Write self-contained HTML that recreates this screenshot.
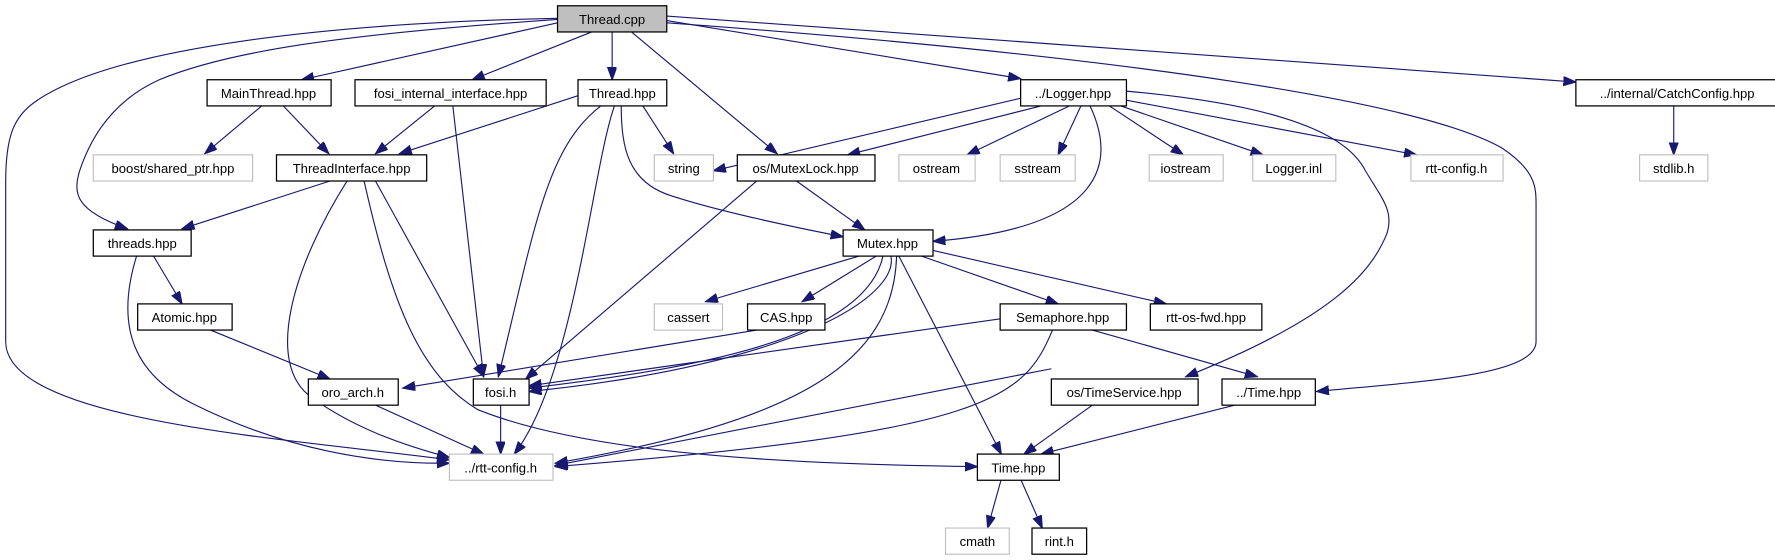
<!DOCTYPE html>
<html><head><meta charset="utf-8"><style>
html,body{margin:0;padding:0;background:#fff;}
svg{display:block;}
text{font-family:"Liberation Sans","DejaVu Sans",sans-serif;font-size:11.5px;fill:#000;text-anchor:middle;}
.b{fill:#fff;stroke:#000;stroke-width:1.1;}
.g{fill:#fff;stroke:#bfbfbf;stroke-width:1;}
.e{fill:none;stroke:#191970;stroke-width:1;marker-end:url(#a);}
</style></head><body>
<svg width="1775" height="560" viewBox="0 0 1560 492" xmlns="http://www.w3.org/2000/svg">
<defs><marker id="a" markerUnits="userSpaceOnUse" markerWidth="12" markerHeight="10" refX="11" refY="4" orient="auto"><path d="M0,0 L11,4 L0,8 Z" fill="#191970" stroke="#191970"/></marker></defs>
<g>
<path class="e" d="M490,20 L265,70"/>
<path class="e" d="M520,28 L415,70"/>
<path class="e" d="M538,28 L538,70"/>
<path class="e" d="M555,28 L683,135"/>
<path class="e" d="M586,18 L897,69"/>
<path class="e" d="M586,14 L1385,72"/>
<path class="e" d="M586,20 C1000,50 1250,90 1320,130 C1350,150 1350,165 1350,180 L1350,300 C1350,330 1250,335 1157,344"/>
<path class="e" d="M490,17 C300,30 200,45 140,70 C100,88 80,120 70,150 C64,170 66,185 112,201"/>
<path class="e" d="M490,16 C300,20 100,40 30,90 C12,103 5,120 5,160 L5,300 C5,370 250,385 395,404"/>
<path class="e" d="M230,93 L180,135"/>
<path class="e" d="M249,93 L289,135"/>
<path class="e" d="M382,93 L330,135"/>
<path class="e" d="M398,93 L425,331"/>
<path class="e" d="M508,84 L351,135"/>
<path class="e" d="M565,93 L592,135"/>
<path class="e" d="M546,93 C546,130 552,160 590,172 C630,185 690,198 741,208"/>
<path class="e" d="M528,93 C480,130 470,200 438,331"/>
<path class="e" d="M540,93 C520,150 505,330 452,399"/>
<path class="e" d="M290,159 L160,201"/>
<path class="e" d="M305,159 C260,230 230,320 275,350 C310,375 350,390 395,402"/>
<path class="e" d="M330,159 L425,331"/>
<path class="e" d="M320,159 C345,270 370,330 420,360 C520,400 700,408 859,410"/>
<path class="e" d="M135,225 L160,267"/>
<path class="e" d="M120,225 C100,290 120,330 170,355 C250,395 330,408 395,407"/>
<path class="e" d="M185,290 L290,333"/>
<path class="e" d="M665,290 L354,341"/>
<path class="e" d="M700,159 L760,202"/>
<path class="e" d="M665,159 L462,333"/>
<path class="e" d="M898,86 L627,150"/>
<path class="e" d="M915,93 L745,136"/>
<path class="e" d="M940,93 L850,136"/>
<path class="e" d="M950,93 L930,136"/>
<path class="e" d="M958,93 C980,140 975,200 820,212"/>
<path class="e" d="M975,93 L1040,136"/>
<path class="e" d="M985,93 L1110,136"/>
<path class="e" d="M990,88 L1245,136"/>
<path class="e" d="M990,80 C1100,90 1180,110 1200,150 C1215,175 1225,185 1219,205 C1205,240 1170,280 1042,331"/>
<path class="e" d="M755,225 L620,265"/>
<path class="e" d="M770,225 L705,265"/>
<path class="e" d="M776,225 C760,300 600,325 465,341"/>
<path class="e" d="M783,225 C790,260 700,320 465,344"/>
<path class="e" d="M788,225 C785,320 700,370 488,407"/>
<path class="e" d="M790,225 L880,399"/>
<path class="e" d="M810,225 L930,267"/>
<path class="e" d="M820,220 L1025,267"/>
<path class="e" d="M880,280 L465,339"/>
<path class="e" d="M925,290 C900,350 870,380 488,410"/>
<path class="e" d="M960,290 L1105,331"/>
<path class="e" d="M924,324 L488,409"/>
<path class="e" d="M960,356 L900,399"/>
<path class="e" d="M1085,356 L915,399"/>
<path class="e" d="M880,421 L868,464"/>
<path class="e" d="M897,421 L916,464"/>
<path class="e" d="M440,356 L440,399"/>
<path class="e" d="M330,356 L425,399"/>
<path class="e" d="M1471,93 L1471,136"/>
</g>
<g>
<rect x="490" y="5" width="96" height="23" fill="#bfbfbf" stroke="#000" stroke-width="1.1"/><text x="538" y="21">Thread.cpp</text>
<rect class="b" x="182" y="70" width="109" height="23"/><text x="236" y="86">MainThread.hpp</text>
<rect class="b" x="312" y="70" width="168" height="23"/><text x="396" y="86">fosi_internal_interface.hpp</text>
<rect class="b" x="508" y="70" width="78" height="23"/><text x="547" y="86">Thread.hpp</text>
<rect class="b" x="897" y="70" width="93" height="23"/><text x="943" y="86">../Logger.hpp</text>
<rect class="b" x="1385" y="70" width="178" height="23"/><text x="1474" y="86">../internal/CatchConfig.hpp</text>
<rect class="g" x="82" y="136" width="140" height="23"/><text x="152" y="152">boost/shared_ptr.hpp</text>
<rect class="b" x="243" y="136" width="132" height="23"/><text x="309" y="152">ThreadInterface.hpp</text>
<rect class="g" x="575" y="136" width="52" height="23"/><text x="601" y="152">string</text>
<rect class="b" x="648" y="136" width="121" height="23"/><text x="708" y="152">os/MutexLock.hpp</text>
<rect class="g" x="790" y="136" width="67" height="23"/><text x="823" y="152">ostream</text>
<rect class="g" x="879" y="136" width="66" height="23"/><text x="912" y="152">sstream</text>
<rect class="g" x="1010" y="136" width="65" height="23"/><text x="1042" y="152">iostream</text>
<rect class="g" x="1101" y="136" width="73" height="23"/><text x="1137" y="152">Logger.inl</text>
<rect class="g" x="1240" y="136" width="81" height="23"/><text x="1280" y="152">rtt-config.h</text>
<rect class="g" x="1441" y="136" width="60" height="23"/><text x="1471" y="152">stdlib.h</text>
<rect class="b" x="82" y="202" width="86" height="23"/><text x="125" y="218">threads.hpp</text>
<rect class="b" x="741" y="202" width="79" height="23"/><text x="780" y="218">Mutex.hpp</text>
<rect class="b" x="121" y="267" width="83" height="23"/><text x="162" y="283">Atomic.hpp</text>
<rect class="g" x="575" y="267" width="60" height="23"/><text x="605" y="283">cassert</text>
<rect class="b" x="657" y="267" width="68" height="23"/><text x="691" y="283">CAS.hpp</text>
<rect class="b" x="879" y="267" width="111" height="23"/><text x="934" y="283">Semaphore.hpp</text>
<rect class="b" x="1011" y="267" width="98" height="23"/><text x="1060" y="283">rtt-os-fwd.hpp</text>
<rect class="b" x="271" y="333" width="79" height="23"/><text x="310" y="349">oro_arch.h</text>
<rect class="b" x="416" y="333" width="49" height="23"/><text x="440" y="349">fosi.h</text>
<rect class="b" x="924" y="333" width="129" height="23"/><text x="988" y="349">os/TimeService.hpp</text>
<rect class="b" x="1074" y="333" width="82" height="23"/><text x="1115" y="349">../Time.hpp</text>
<rect class="g" x="395" y="399" width="91" height="23"/><text x="440" y="415">../rtt-config.h</text>
<rect class="b" x="859" y="399" width="72" height="23"/><text x="895" y="415">Time.hpp</text>
<rect class="g" x="831" y="464" width="56" height="23"/><text x="859" y="480">cmath</text>
<rect class="b" x="907" y="464" width="48" height="23"/><text x="931" y="480">rint.h</text>
</g>
</svg>
</body></html>
